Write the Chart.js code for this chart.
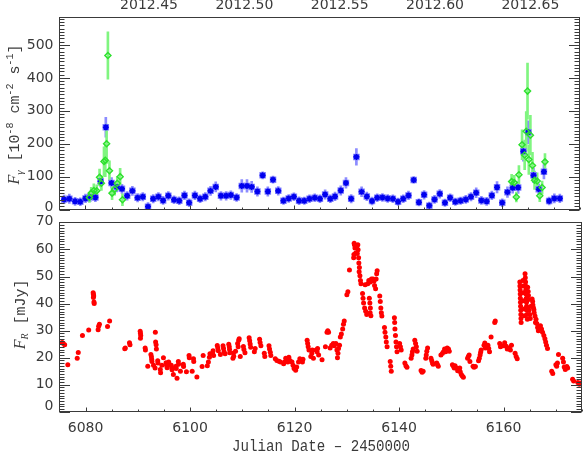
<!DOCTYPE html>
<html>
<head>
<meta charset="utf-8">
<title>Gamma-ray and optical light curves</title>
<script src="https://cdn.jsdelivr.net/npm/chart.js"></script>
<style>
  body { margin: 0; background: #fff; }
  #wrap { position: relative; width: 586px; height: 452px; overflow: hidden; }
  canvas { position: absolute; left: 0; }
</style>
</head>
<body>
<div id="wrap">
  <canvas id="gamma" width="586" height="224" style="top:0"></canvas>
  <canvas id="optical" width="586" height="244" style="top:208px"></canvas>
</div>
<script>
const JD_MIN = 6075, JD_MAX = 6175;
// decimal year of 2012 (366 days) from JD - 2450000
const toYear = jd => 2012 + (jd - 5927.5) / 366;

const jdTicks = [6080, 6100, 6120, 6140, 6160];
const yearTicks = [2012.45, 2012.50, 2012.55, 2012.60, 2012.65];
const gammaTicks = [0, 100, 200, 300, 400, 500];
const opticalTicks = [0, 10, 20, 30, 40, 50, 60, 70];

// gamma-ray flux, daily bins (blue stars)
const fermiJD = [6075.9, 6076.9, 6078.0, 6079.0, 6080.0, 6080.9, 6081.9, 6082.9, 6083.9, 6085.0,
  6086.0, 6087.0, 6088.0, 6089.0, 6090.0, 6091.0, 6092.0, 6093.0, 6094.0, 6094.9,
  6095.9, 6097.0, 6098.0, 6099.0, 6099.9, 6101.0, 6102.0, 6103.0, 6104.0, 6105.0,
  6106.0, 6107.0, 6107.9, 6109.0, 6110.0, 6111.0, 6111.9, 6113.0, 6114.0, 6115.0,
  6116.0, 6117.0, 6118.0, 6119.0, 6120.0, 6121.0, 6122.0, 6123.0, 6124.0, 6125.0,
  6126.0, 6127.0, 6127.9, 6129.0, 6130.0, 6131.0, 6132.0, 6133.0, 6134.0, 6135.0,
  6136.0, 6137.0, 6138.0, 6139.0, 6140.0, 6141.0, 6142.0, 6143.0, 6144.0, 6145.0,
  6146.0, 6147.0, 6148.0, 6149.0, 6150.0, 6151.0, 6152.0, 6153.0, 6154.0, 6155.0,
  6156.0, 6157.0, 6158.0, 6159.0, 6160.0, 6161.0, 6162.0, 6163.05, 6164.05, 6165.0,
  6166.0, 6167.0, 6168.0, 6169.0, 6170.0, 6171.05];
const fermiFlux = [31, 33, 25, 24, 34, 38, 37, 86, 250, 81,
  69, 63, 42, 57, 36, 39, 9, 33, 39, 28,
  42, 30, 27, 43, 21, 43, 33, 39, 57, 69,
  42, 42, 44, 37, 72, 72, 69, 55, 104, 55,
  91, 57, 27, 34, 39, 27, 27, 33, 36, 33,
  46, 33, 40, 58, 81, 33, 160, 54, 40, 26,
  36, 37, 34, 33, 24, 33, 43, 90, 22, 45,
  12, 31, 48, 21, 36, 24, 27, 31, 39, 51,
  28, 25, 43, 68, 21, 53, 66, 67, 177, 235,
  104, 62, 115, 26, 34, 34];
const fermiErr = [13, 14, 12, 12, 13, 14, 13, 17, 30, 16,
  15, 14, 13, 14, 13, 13, 12, 13, 13, 12,
  13, 12, 12, 13, 12, 13, 12, 13, 14, 15,
  13, 13, 13, 12, 19, 19, 17, 14, 11, 14,
  11, 13, 11, 12, 12, 12, 11, 12, 12, 12,
  14, 12, 13, 14, 16, 13, 25, 15, 13, 12,
  12, 12, 12, 12, 11, 12, 13, 10, 11, 13,
  11, 12, 13, 11, 12, 11, 11, 12, 13, 15,
  12, 12, 13, 17, 12, 16, 16, 18, 30, 35,
  22, 16, 22, 12, 14, 13];

// gamma-ray flux, short bins during the flares (green diamonds)
const flareJD = [6080.75, 6081.1, 6081.6, 6082.15, 6082.7, 6083.05, 6083.55, 6083.8, 6084.05, 6084.3,
  6084.6, 6085.1, 6085.6, 6086.1, 6086.65, 6087.1,
  6161.8, 6162.3, 6162.7, 6163.2, 6163.8, 6164.3, 6164.6, 6164.85, 6165.1, 6165.4,
  6165.8, 6166.2, 6166.7, 6167.2, 6167.65, 6168.2];
const flareFlux = [37, 50, 58, 57, 98, 80, 146, 150, 200, 468,
  118, 50, 62, 80, 100, 30,
  85, 82, 38, 106, 197, 166, 238, 360, 152, 226,
  134, 89, 87, 42, 67, 145];
const flareErr = [15, 18, 20, 18, 25, 22, 45, 50, 60, 72,
  30, 20, 18, 20, 25, 18,
  22, 22, 15, 28, 45, 45, 60, 85, 45, 60,
  40, 28, 25, 18, 20, 25];

// optical R-band flux density (red dots)
const optJD = [
  6075.5, 6075.7, 6076.0, 6076.6, 6078.4, 6078.6, 6079.4, 6080.6, 6081.45, 6081.5,
  6081.55, 6081.5, 6081.6, 6081.65, 6082.4, 6082.5, 6082.65, 6084.2, 6084.6, 6087.5,
  6087.6, 6088.4, 6088.5, 6090.45, 6090.5, 6090.55, 6090.5, 6091.4, 6091.45, 6091.9,
  6092.5, 6092.6, 6092.65, 6092.7, 6093.0, 6093.35, 6093.4, 6093.5, 6093.55, 6093.8,
  6093.85, 6094.3, 6094.35, 6094.6, 6094.9, 6095.4, 6095.5, 6095.6, 6095.9, 6096.0,
  6096.4, 6096.5, 6096.55, 6096.8, 6097.3, 6097.35, 6097.5, 6097.75, 6097.8, 6098.15,
  6098.7, 6098.75, 6099.3, 6099.8, 6099.85, 6100.4, 6100.65, 6100.7, 6101.3, 6093.3,
  6102.3, 6102.5, 6103.3, 6103.5, 6103.7, 6103.8, 6104.3, 6104.4, 6104.5, 6105.2,
  6105.3, 6105.4, 6105.8, 6106.3, 6106.4, 6106.5, 6106.7, 6107.4, 6107.5, 6107.55,
  6107.6, 6108.3, 6108.35, 6108.2, 6108.7, 6109.1, 6109.2, 6109.3, 6109.4, 6109.6,
  6110.2, 6110.3, 6110.5, 6111.3, 6111.4, 6111.5, 6111.6, 6112.3, 6112.45, 6113.3,
  6113.4, 6113.55, 6114.2, 6114.3, 6115.1, 6115.2, 6115.35, 6115.45, 6116.3, 6116.6,
  6117.0, 6117.3, 6117.9, 6118.1, 6118.3, 6118.5, 6118.7, 6118.9, 6119.1, 6119.5,
  6119.7, 6119.9, 6120.2, 6120.4, 6120.75, 6121.0, 6121.5, 6121.6,
  6122.4, 6122.5, 6122.6, 6122.75, 6123.1, 6123.3, 6123.4, 6123.6, 6124.1, 6124.3,
  6124.4, 6124.6, 6125.25, 6125.9, 6126.2, 6126.35, 6126.5, 6126.8, 6127.1, 6127.4,
  6127.6, 6127.9, 6128.1, 6128.2, 6128.3, 6128.4, 6128.6, 6128.75, 6128.95, 6129.2,
  6129.35, 6129.5, 6130.0, 6130.2, 6130.5, 6131.3, 6131.35, 6131.45, 6131.55, 6131.7,
  6131.4, 6132.1, 6132.15, 6132.25, 6132.4, 6132.5, 6132.6, 6132.7, 6133.5, 6133.0,
  6133.1, 6133.2, 6133.4, 6133.6, 6133.8, 6134.0, 6134.2, 6134.5, 6134.7, 6134.3,
  6134.4, 6134.5, 6134.45, 6134.6, 6135.0, 6135.2, 6135.3, 6135.5, 6135.6, 6135.7,
  6135.8, 6136.3, 6136.4, 6136.5, 6136.6, 6136.7, 6137.2, 6137.3, 6137.45, 6137.55,
  6137.7, 6138.3, 6138.4, 6138.5, 6139.1, 6139.15, 6139.2, 6139.3, 6139.4, 6139.5,
  6139.6, 6140.1, 6140.25, 6140.4, 6131.9, 6132.0, 6132.3, 6132.35,
  6141.1, 6141.3, 6141.5, 6142.3, 6142.45, 6142.55, 6142.7, 6143.0, 6143.15, 6143.3,
  6143.45, 6144.2, 6144.4, 6144.6, 6145.1, 6145.2, 6145.3, 6145.45, 6146.1, 6146.25,
  6146.4, 6146.5, 6147.2, 6147.35, 6147.5, 6148.0, 6148.3, 6148.5, 6148.7, 6148.9,
  6149.2, 6149.45, 6149.6, 6150.2, 6150.4, 6150.55, 6150.7, 6151.0, 6151.2, 6151.4,
  6151.6, 6151.7, 6151.9, 6152.1, 6152.3, 6153.1, 6153.25, 6153.4, 6153.55, 6154.15,
  6154.35, 6154.6, 6155.2, 6155.35, 6155.5, 6155.6, 6155.7, 6156.25, 6156.4, 6156.5,
  6157.0, 6157.15, 6157.3, 6157.6, 6158.3, 6158.4, 6159.25, 6159.4, 6159.9, 6160.2,
  6160.5, 6160.7, 6161.1, 6161.3, 6161.5, 6162.2, 6162.4, 6162.6, 6163.1, 6163.12,
  6163.15, 6163.18, 6163.2, 6163.22, 6163.25, 6163.28, 6163.3, 6163.32, 6163.35, 6163.7,
  6163.75, 6163.8, 6163.9, 6163.95, 6164.0, 6164.1, 6164.15, 6164.2, 6164.22, 6164.25,
  6164.3, 6164.35, 6164.38, 6164.4, 6164.45, 6164.5, 6164.6, 6164.7, 6164.75, 6164.8,
  6164.85, 6165.0, 6165.1, 6165.25, 6165.45, 6165.55, 6165.6, 6165.7, 6165.8, 6165.85,
  6166.0, 6166.1, 6166.2, 6166.35, 6166.5, 6166.65, 6167.05, 6167.25, 6167.45, 6167.7,
  6167.9, 6168.05, 6168.2, 6168.4, 6169.2, 6169.4, 6170.0, 6170.15, 6170.3, 6170.5,
  6171.3, 6171.45, 6171.6, 6171.8, 6172.1, 6172.25, 6173.2, 6173.4, 6174.2, 6174.5,
  6174.7, 6164.55, 6164.65];
const optFlux = [
  25.6, 25.3, 24.8, 17.4, 19.8, 21.9, 28.2, 30.2, 44.0, 43.4,
  42.8, 42.2, 40.6, 40.0, 30.3, 31.6, 32.4, 31.5, 33.6, 23.3,
  23.6, 25.5, 24.8, 29.8, 29.0, 28.2, 27.2, 23.6, 22.8, 16.8,
  21.2, 20.3, 19.4, 18.6, 17.2, 29.4, 25.8, 24.8, 23.2, 18.9,
  18.0, 15.6, 14.4, 17.2, 20.0, 18.1, 17.2, 16.3, 18.4, 17.6,
  17.2, 16.3, 15.5, 13.8, 16.8, 16.0, 12.4, 18.6, 17.6, 15.0,
  17.6, 16.7, 14.8, 20.8, 20.0, 15.0, 19.6, 18.6, 12.9, 16.2,
  16.7, 20.8, 17.0, 18.4, 20.2, 21.5, 21.7, 22.6, 20.8, 24.5,
  23.6, 22.6, 21.2, 24.4, 23.4, 22.2, 21.5, 25.0, 24.0, 23.0,
  21.8, 21.7, 20.5, 19.8, 22.4, 25.2, 24.0, 26.4, 27.0, 20.4,
  24.1, 23.0, 21.8, 27.4, 26.3, 25.1, 23.9, 22.2, 23.4, 26.8,
  25.6, 24.4, 21.6, 20.4, 24.4, 23.2, 22.0, 20.8, 19.6, 19.0,
  18.7, 18.4, 17.8, 18.4, 19.8, 19.6, 18.4, 20.2, 19.0, 18.4,
  17.2, 16.0, 15.4, 16.6, 18.4, 19.6, 18.4, 19.4,
  26.4, 25.2, 24.0, 22.8, 20.4, 21.6, 22.8, 19.8, 22.8, 22.2,
  23.4, 21.0, 19.2, 24.0, 29.4, 30.0, 29.4, 23.6, 24.6, 25.2,
  24.4, 25.2, 22.8, 20.0, 21.6, 23.4, 24.6, 27.6, 28.8, 30.6,
  32.4, 33.6, 43.3, 44.4, 52.4, 56.9, 58.1, 61.7, 60.5, 58.7,
  62.3, 61.7, 59.9, 56.9, 53.3, 50.3, 48.5, 47.3, 47.0, 43.7,
  42.0, 40.2, 38.4, 37.2, 36.0, 47.3, 48.5, 48.0, 49.1, 42.0,
  40.2, 38.4, 36.6, 35.5, 49.1, 48.3, 46.7, 45.5, 49.1, 51.0,
  52.1, 42.8, 40.8, 38.4, 36.6, 35.4, 31.2, 29.4, 27.6, 25.8,
  24.0, 18.6, 16.8, 15.0, 34.8, 33.0, 30.6, 28.2, 25.8, 24.0,
  22.2, 25.2, 24.0, 22.8, 61.0, 58.5, 55.0, 51.8,
  18.0, 17.0, 16.5, 19.8, 21.0, 22.2, 23.2, 26.4, 25.2, 24.0,
  22.4, 15.3, 14.6, 15.0, 19.8, 21.0, 22.4, 23.6, 19.8, 18.9,
  18.0, 17.6, 18.0, 17.4, 16.8, 21.0, 21.6, 22.2, 23.2, 22.2,
  23.6, 23.2, 22.4, 17.4, 16.8, 16.2, 17.0, 16.2, 15.2, 15.6,
  16.2, 14.8, 13.8, 13.2, 12.8, 19.8, 20.4, 21.0, 18.6, 16.8,
  16.5, 16.7, 18.9, 19.8, 21.0, 22.0, 22.8, 24.6, 25.4, 23.6,
  24.6, 23.4, 22.2, 27.6, 33.0, 33.6, 25.2, 24.0, 24.4, 25.5,
  24.2, 23.2, 23.6, 22.8, 24.6, 21.6, 20.4, 19.6, 48.0, 46.5,
  45.0, 43.5, 42.0, 40.5, 39.0, 37.5, 36.0, 34.5, 33.0, 48.5,
  46.5, 44.0, 41.0, 38.0, 35.5, 51.0, 49.5, 48.0, 46.5, 45.0,
  43.5, 42.0, 40.5, 39.0, 37.5, 36.0, 46.0, 44.5, 43.0, 41.5,
  37.5, 36.0, 34.5, 39.0, 41.7, 40.8, 39.5, 38.5, 37.7, 36.6,
  35.4, 33.0, 34.2, 32.6, 31.2, 30.0, 31.8, 30.6, 29.4, 28.2,
  27.0, 25.8, 24.6, 23.4, 15.0, 14.2, 17.4, 16.8, 18.0, 21.2,
  19.8, 18.4, 16.6, 15.6, 16.7, 16.2, 12.0, 11.4, 10.8, 10.2,
  10.6, 34.2, 38.0];

const INK = '#3a3a3a';
const MONO = '"Liberation Mono", monospace';
const SERIF = '"Liberation Serif", serif';

Chart.defaults.font.family = '"DejaVu Sans", sans-serif';
Chart.defaults.font.size = 14;
Chart.defaults.color = INK;

const gammaTitle = [
  { t: 'F', font: 'italic 16px ' + SERIF },
  { t: 'γ', font: 'italic 11px ' + SERIF, dy: 4 },
  { t: ' [10', font: '15px ' + MONO },
  { t: '-8', font: '10px ' + MONO, dy: -6 },
  { t: ' cm', font: '15px ' + MONO },
  { t: '-2', font: '10px ' + MONO, dy: -6 },
  { t: ' s', font: '15px ' + MONO },
  { t: '-1', font: '10px ' + MONO, dy: -6 },
  { t: ']', font: '15px ' + MONO }
];
const opticalTitle = [
  { t: 'F', font: 'italic 16px ' + SERIF },
  { t: 'R', font: 'italic 10px ' + SERIF, dy: 3 },
  { t: ' [mJy]', font: '15px ' + MONO }
];

function drawRotated(ctx, pieces, x, y) {
  ctx.save();
  ctx.translate(x, y);
  ctx.rotate(-Math.PI / 2);
  ctx.textAlign = 'left';
  ctx.textBaseline = 'alphabetic';
  let total = 0;
  pieces.forEach(p => { ctx.font = p.font; total += ctx.measureText(p.t).width; });
  let cur = -total / 2;
  pieces.forEach(p => {
    ctx.font = p.font;
    ctx.fillText(p.t, cur, p.dy || 0);
    cur += ctx.measureText(p.t).width;
  });
  ctx.restore();
}

// IDL-like box: inward ticks on all four sides, end labels, axis titles
function makeFrame(cfg) {
  return {
    id: 'idlFrame',
    afterDraw(chart) {
      const { ctx, chartArea: a, scales } = chart;
      const px = v => Math.round(v) + 0.5;
      const L = px(a.left), R = px(a.right) - 1, T = px(a.top), B = px(a.bottom) - 1;
      ctx.save();
      ctx.strokeStyle = INK;
      ctx.lineWidth = 1;
      ctx.strokeRect(L, T, R - L, B - T);
      ctx.beginPath();
      for (let v = JD_MIN; v <= JD_MAX; v += 5) {
        const x = px(scales.x.getPixelForValue(v));
        const len = v % 20 === 0 ? 4 : 2;
        ctx.moveTo(x, B); ctx.lineTo(x, B - len);
      }
      for (let k = 240; k <= 268; k++) {
        const xv = scales.x2.getPixelForValue(2012 + k / 100);
        if (xv < a.left || xv > a.right) continue;
        const len = k % 5 === 0 ? 4 : 2;
        ctx.moveTo(px(xv), T); ctx.lineTo(px(xv), T + len);
      }
      for (let v = 0; v <= cfg.yMax; v += cfg.yMinor) {
        const y = px(scales.y.getPixelForValue(v));
        const len = v % cfg.yMajor === 0 ? 10.5 : 5;
        ctx.moveTo(L, y); ctx.lineTo(L + len, y);
        ctx.moveTo(R, y); ctx.lineTo(R - len, y);
      }
      ctx.stroke();

      ctx.fillStyle = INK;
      ctx.font = '14px "DejaVu Sans"';
      ctx.textAlign = 'right';
      ctx.textBaseline = 'middle';
      cfg.endLabels.forEach(([txt, y]) => ctx.fillText(txt, a.left - 6, y));

      drawRotated(ctx, cfg.title, cfg.titleX, cfg.titleY);

      if (cfg.xTitle) {
        ctx.font = '16px ' + MONO;
        ctx.textAlign = 'center';
        ctx.textBaseline = 'alphabetic';
        ctx.fillText(cfg.xTitle, 321, cfg.xTitleY, 178);
      }
      ctx.restore();
    }
  };
}

const plainGrid = { display: false, drawTicks: false };
const noBorder = { display: false };

new Chart(document.getElementById('gamma'), {
  type: 'scatter',
  data: {
    datasets: [
      {
        type: 'bar', xAxisID: 'x', yAxisID: 'y',
        data: fermiJD.map((x, i) => ({ x, y: [fermiFlux[i] - fermiErr[i], fermiFlux[i] + fermiErr[i]] })),
        backgroundColor: '#8c8cff', barThickness: 2, grouped: false, order: 5
      },
      {
        type: 'bar', xAxisID: 'x', yAxisID: 'y',
        data: flareJD.map((x, i) => ({ x, y: [flareFlux[i] - flareErr[i], flareFlux[i] + flareErr[i]] })),
        backgroundColor: '#80f580', barThickness: 2, grouped: false, order: 4
      },
      {
        xAxisID: 'x', yAxisID: 'y',
        data: fermiJD.map((x, i) => ({ x, y: fermiFlux[i] })),
        pointStyle: 'rect', pointRadius: 4.6, pointBorderWidth: 0,
        pointBackgroundColor: '#8080ff', order: 3
      },
      {
        xAxisID: 'x', yAxisID: 'y',
        data: fermiJD.map((x, i) => ({ x, y: fermiFlux[i] })),
        pointStyle: 'star', pointRadius: 3, pointBorderColor: '#0000ee',
        pointBorderWidth: 1.6, order: 2
      },
      {
        xAxisID: 'x', yAxisID: 'y',
        data: flareJD.map((x, i) => ({ x, y: flareFlux[i] })),
        pointStyle: 'rectRot', pointRadius: 3, pointBorderColor: '#2ee02e',
        pointBorderWidth: 1.5, pointBackgroundColor: 'rgba(0,0,0,0)', order: 1
      }
    ]
  },
  options: {
    responsive: false, animation: false, devicePixelRatio: 1,
    layout: { padding: { left: 0, right: 1.5, top: 0, bottom: 0 } },
    plugins: { legend: { display: false }, tooltip: { enabled: false } },
    scales: {
      x: {
        type: 'linear', position: 'bottom', min: JD_MIN, max: JD_MAX, offset: false,
        grid: plainGrid, border: noBorder, ticks: { display: false },
        afterFit: s => { s.height = 12; }
      },
      x2: {
        type: 'linear', position: 'top', min: toYear(JD_MIN), max: toYear(JD_MAX),
        grid: plainGrid, border: noBorder,
        ticks: { padding: 3, maxRotation: 0, autoSkip: false, callback: v => v.toFixed(2) },
        afterBuildTicks: s => { s.ticks = yearTicks.map(value => ({ value })); },
        afterFit: s => { s.height = 17; }
      },
      y: {
        type: 'linear', position: 'left', min: 0, max: 585,
        grid: plainGrid, border: noBorder,
        ticks: { padding: 6, callback: v => (v === 0 ? '' : String(v)) },
        afterBuildTicks: s => { s.ticks = gammaTicks.map(value => ({ value })); },
        afterFit: s => { s.width = 59.45; }
      }
    }
  },
  plugins: [makeFrame({
    yMax: 580, yMinor: 10, yMajor: 100,
    endLabels: [['0', 207]],
    title: gammaTitle, titleX: 18.5, titleY: 114.5
  })]
});

new Chart(document.getElementById('optical'), {
  type: 'scatter',
  data: {
    datasets: [{
      xAxisID: 'x', yAxisID: 'y',
      data: optJD.map((x, i) => ({ x, y: optFlux[i] })),
      pointRadius: 2.5, pointBorderWidth: 0, pointBackgroundColor: '#ff0000'
    }]
  },
  options: {
    responsive: false, animation: false, devicePixelRatio: 1,
    layout: { padding: { left: 0, right: 1.5, top: 0, bottom: 0 } },
    plugins: { legend: { display: false }, tooltip: { enabled: false } },
    scales: {
      x: {
        type: 'linear', position: 'bottom', min: JD_MIN, max: JD_MAX, offset: false,
        grid: plainGrid, border: noBorder,
        ticks: { padding: 8, maxRotation: 0, autoSkip: false, callback: v => String(v) },
        afterBuildTicks: s => { s.ticks = jdTicks.map(value => ({ value })); },
        afterFit: s => { s.height = 40.2; }
      },
      x2: {
        type: 'linear', position: 'top', min: toYear(JD_MIN), max: toYear(JD_MAX),
        grid: plainGrid, border: noBorder, ticks: { display: false },
        afterFit: s => { s.height = 9; }
      },
      y: {
        type: 'linear', position: 'left', min: 0, max: 70,
        grid: plainGrid, border: noBorder,
        ticks: { padding: 6, callback: v => (v === 0 || v === 70 ? '' : String(v)) },
        afterBuildTicks: s => { s.ticks = opticalTicks.map(value => ({ value })); },
        afterFit: s => { s.width = 59.45; }
      }
    }
  },
  plugins: [makeFrame({
    yMax: 70, yMinor: 1, yMajor: 10,
    endLabels: [['0', 198.7], ['70', 13.7]],
    title: opticalTitle, titleX: 25, titleY: 106.4,
    xTitle: 'Julian Date – 2450000', xTitleY: 243
  })]
});
</script>
</body>
</html>
